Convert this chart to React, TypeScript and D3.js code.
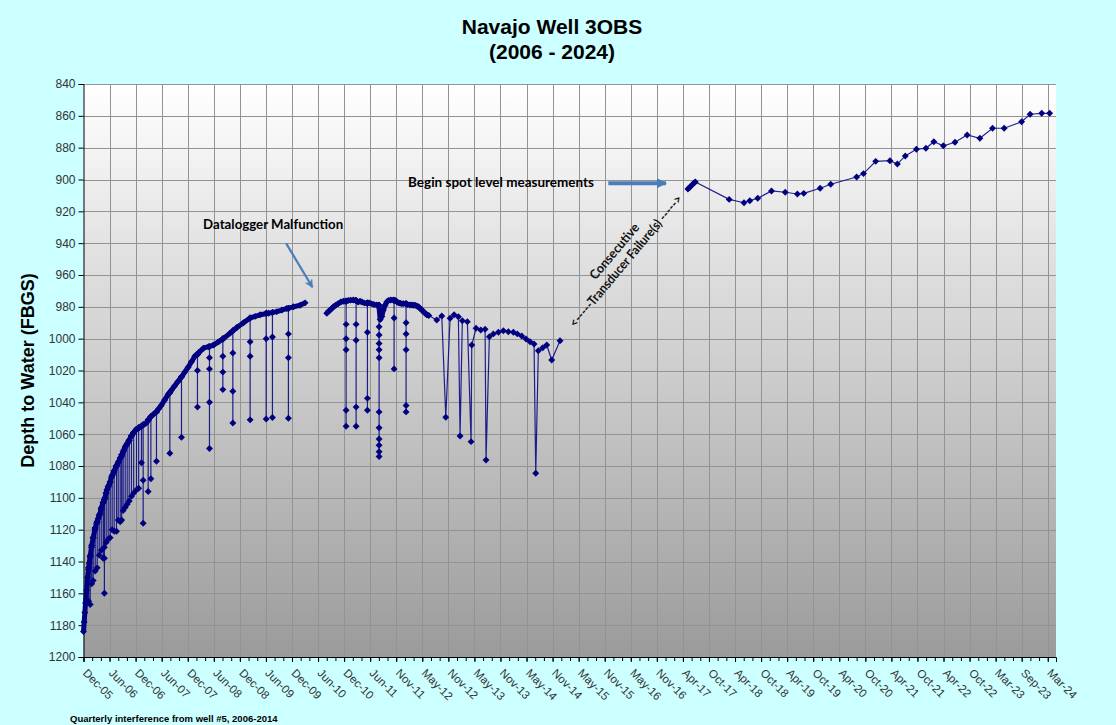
import React, { useEffect, useRef } from "react";
import * as d3 from "d3";

// x-axis category labels (Excel date axis, one label every 180 days)
const tickLabels = [
  "Dec-05", "Jun-06", "Dec-06", "Jun-07", "Dec-07", "Jun-08", "Dec-08", "Jun-09",
  "Dec-09", "Jun-10", "Dec-10", "Jun-11", "Nov-11", "May-12", "Nov-12", "May-13",
  "Nov-13", "May-14", "Nov-14", "May-15", "Nov-15", "May-16", "Nov-16", "Apr-17",
  "Oct-17", "Apr-18", "Oct-18", "Apr-19", "Oct-19", "Apr-20", "Oct-20", "Apr-21",
  "Oct-21", "Apr-22", "Oct-22", "Mar-23", "Sep-23", "Mar-24",
];
const axisStart = 2005.99; // Dec-05 tick, decimal year
const tickStep = 180 / 365.25;
const axisEnd = 2024.38;

const yTicks = [840, 860, 880, 900, 920, 940, 960, 980, 1000, 1020, 1040, 1060, 1080, 1100, 1120, 1140, 1160, 1180, 1200];

// datalogger record 2006-2010: [decimal year, depth to water]
const loggerA: [number, number][] = [
  [2005.99, 1184], [2006.003, 1178], [2006.016, 1172], [2006.028, 1166], [2006.047, 1158],
  [2006.066, 1150], [2006.083, 1145], [2006.098, 1141], [2006.12, 1136], [2006.141, 1131],
  [2006.173, 1125], [2006.206, 1120], [2006.236, 1116], [2006.268, 1113], [2006.3, 1110],
  [2006.33, 1106], [2006.362, 1103], [2006.396, 1100], [2006.432, 1095], [2006.472, 1092],
  [2006.519, 1087], [2006.563, 1084], [2006.608, 1080], [2006.657, 1077], [2006.708, 1074],
  [2006.752, 1070], [2006.797, 1067], [2006.848, 1064], [2006.897, 1061], [2006.941, 1059],
  [2006.986, 1057], [2007.037, 1056], [2007.086, 1055], [2007.132, 1054], [2007.175, 1053],
  [2007.221, 1051], [2007.264, 1049], [2007.313, 1047.5], [2007.364, 1046], [2007.412, 1044],
  [2007.459, 1042], [2007.525, 1038.5], [2007.591, 1035], [2007.648, 1032.5], [2007.705, 1030],
  [2007.773, 1027], [2007.843, 1024], [2007.905, 1021], [2007.969, 1018], [2008.032, 1014.5],
  [2008.096, 1011], [2008.177, 1008.5], [2008.258, 1006], [2008.353, 1005], [2008.447, 1004],
  [2008.542, 1002], [2008.636, 1000], [2008.763, 996.5], [2008.89, 993], [2009.015, 990],
  [2009.141, 987], [2009.236, 986], [2009.33, 985], [2009.487, 984], [2009.646, 983],
  [2009.741, 982], [2009.835, 981], [2009.96, 980], [2010.086, 979], [2010.181, 977.5],
];

// pumping drawdowns 2006-2010: [year, level before, deepest, other readings on the way]
const dropsA: [number, number, number, number[]][] = [
  [2006.088, 1144, 1165, []], [2006.117, 1137, 1167, []], [2006.145, 1130, 1154, []],
  [2006.173, 1125, 1152, []], [2006.211, 1119, 1146, []], [2006.249, 1115, 1144, []],
  [2006.287, 1111, 1136, []], [2006.325, 1107, 1133, []], [2006.362, 1103, 1138, []],
  [2006.385, 1101, 1160, [1131, 1138]], [2006.419, 1097, 1128, []], [2006.457, 1093, 1126, []],
  [2006.494, 1090, 1125, []], [2006.532, 1086, 1120, []], [2006.57, 1083, 1121, []],
  [2006.614, 1080, 1121, []], [2006.646, 1078, 1114, []], [2006.684, 1075, 1115, []],
  [2006.712, 1073, 1114, []], [2006.74, 1071, 1108, []], [2006.778, 1068, 1106, []],
  [2006.816, 1066, 1104, []], [2006.854, 1064, 1102, []], [2006.897, 1061, 1099, []],
  [2006.939, 1059, 1097, []], [2006.992, 1057, 1095, []], [2007.033, 1056, 1094, []],
  [2007.086, 1055, 1078, []], [2007.118, 1054, 1116, [1089]], [2007.213, 1051, 1096, []],
  [2007.264, 1049, 1088, []], [2007.37, 1046, 1077, []], [2007.623, 1034, 1072, []],
  [2007.843, 1024, 1062, []], [2008.145, 1010, 1043, [1020]],
  [2008.372, 1005, 1069, [1012, 1019, 1040]], [2008.625, 1000, 1032, [1011, 1021]],
  [2008.814, 995, 1053, [1009, 1033]], [2009.141, 987, 1051, [1002, 1011]],
  [2009.444, 984, 1050.5, [1000]], [2009.563, 983.5, 1049.5, [999]],
  [2009.865, 981, 1050, [997, 1012]],
];

// datalogger record 2010-2012
const loggerB: [number, number][] = [
  [2010.591, 984], [2010.62, 983], [2010.654, 982], [2010.685, 981], [2010.716, 980],
  [2010.76, 979], [2010.805, 978], [2010.855, 977], [2010.905, 976.5], [2010.95, 976.3],
  [2010.994, 976], [2011.04, 975.8], [2011.094, 975.7], [2011.14, 976], [2011.183, 977],
  [2011.22, 976.5], [2011.258, 977], [2011.3, 977.5], [2011.347, 977.8], [2011.39, 977.5],
  [2011.429, 978], [2011.48, 978.5], [2011.536, 978.8], [2011.575, 979], [2011.6, 988],
  [2011.631, 986], [2011.66, 982], [2011.693, 979], [2011.725, 977], [2011.756, 976],
  [2011.8, 975.7], [2011.85, 975.7], [2011.89, 976], [2011.92, 977], [2011.95, 977.5],
  [2011.977, 977.8], [2012.01, 978], [2012.039, 978], [2012.085, 978], [2012.12, 978.5],
  [2012.166, 978.8], [2012.2, 978.8], [2012.228, 979], [2012.26, 979], [2012.292, 979.5],
  [2012.325, 980], [2012.355, 981], [2012.39, 982], [2012.417, 983], [2012.45, 984],
  [2012.482, 985], [2012.52, 985.5],
];

const dropsB: [number, number, number, number[]][] = [
  [2010.956, 976.5, 1055, [991, 1000, 1007, 1045]],
  [2011.145, 976, 1055, [991, 1001, 1043]],
  [2011.359, 977.5, 1045, [996, 1037.5]],
  [2011.58, 979, 1074, [992.5, 997.7, 1003, 1007, 1012, 1046, 1056, 1063, 1067, 1071]],
  [2011.863, 976, 1019, [987]],
  [2012.09, 978, 1046, [990, 997, 1007, 1042]],
];

// manual readings 2012-2015
const manualB: [number, number][] = [
  [2012.67, 988.3], [2012.765, 985.8], [2012.841, 1049.4], [2012.922, 987.2], [2012.998, 985],
  [2013.079, 986.2], [2013.111, 1061.2], [2013.154, 988.7], [2013.249, 989.3], [2013.319, 1064.7],
  [2013.332, 1004], [2013.413, 993.5], [2013.502, 994.6], [2013.584, 994.1], [2013.602, 1076.2],
  [2013.665, 998.8], [2013.74, 997], [2013.835, 996], [2013.93, 995], [2014.024, 995.6],
  [2014.119, 996], [2014.194, 997], [2014.277, 998.3], [2014.359, 1000.2], [2014.434, 1001.9],
  [2014.51, 1003.4], [2014.542, 1084.6], [2014.591, 1007.6], [2014.674, 1005.7], [2014.75, 1004],
  [2014.844, 1013.4], [2015.001, 1001.3],
];

// spot level measurements 2017-2024
const spotLevels: [number, number][] = [
  [2017.42, 906], [2017.45, 905], [2017.48, 904], [2017.51, 903], [2017.54, 902], [2017.56, 901.5],
  [2018.2, 912.5], [2018.48, 914.6], [2018.59, 913.3], [2018.74, 911.8], [2019.0, 907.2],
  [2019.26, 908], [2019.49, 909.1], [2019.61, 908.7], [2019.92, 905.5], [2020.12, 903],
  [2020.61, 898.4], [2020.74, 896.3], [2020.97, 888.6], [2021.24, 888.2], [2021.38, 890.3],
  [2021.53, 885.2], [2021.74, 881], [2021.92, 880.4], [2022.07, 876.3], [2022.25, 878.8],
  [2022.47, 876.6], [2022.7, 872], [2022.94, 874.1], [2023.18, 867.8], [2023.4, 867.8],
  [2023.73, 863.7], [2023.89, 859], [2024.11, 858.4], [2024.26, 858.4],
];

const W = 1116;
const H = 725;
const NAVY = "#000080";
const ARROW = "#4a7ebb";
const AXIS_FONT = "'Liberation Sans', Arial, sans-serif";
const NOTE_FONT = "Lato, 'Open Sans', sans-serif";

type Pt = { t: number; v: number; k: number };

function withDrawdowns(trend: [number, number][], drops: [number, number, number, number[]][]) {
  const pts: Pt[] = trend.map(([t, v]) => ({ t, v, k: 0 }));
  drops.forEach(([t, top, bottom, extra]) => {
    pts.push({ t, v: top, k: 1 });
    extra.forEach((v, j) => pts.push({ t, v, k: 2 + j }));
    pts.push({ t, v: bottom, k: 50 });
    pts.push({ t, v: top, k: 51 });
  });
  return pts.sort((a, b) => a.t - b.t || a.k - b.k);
}

export default function App() {
  const svgRef = useRef<SVGSVGElement>(null);

  useEffect(() => {
    const svg = d3.select(svgRef.current);
    svg.selectAll("*").remove();

    const left = 83.5, right = 1056, top = 84, bottom = 657;

    const x = d3.scaleLinear().domain([axisStart, axisEnd]).range([left, right]);
    const y = d3.scaleLinear().domain([840, 1200]).range([top, bottom]);

    // background
    svg.append("rect").attr("width", W).attr("height", H).attr("fill", "#ccffff");

    const defs = svg.append("defs");
    const grad = defs.append("linearGradient")
      .attr("id", "plotBg").attr("x1", 0).attr("y1", 0).attr("x2", 0).attr("y2", 1);
    grad.append("stop").attr("offset", "0%").attr("stop-color", "#ffffff");
    grad.append("stop").attr("offset", "100%").attr("stop-color", "#9b9b9b");

    defs.append("marker")
      .attr("id", "thinHead").attr("viewBox", "0 0 10 10").attr("refX", 9).attr("refY", 5)
      .attr("markerWidth", 4).attr("markerHeight", 4).attr("orient", "auto")
      .append("path").attr("d", "M0,0 L10,5 L0,10 L3,5 Z").attr("fill", ARROW);
    defs.append("marker")
      .attr("id", "thickHead").attr("viewBox", "0 0 10 10").attr("refX", 9).attr("refY", 5)
      .attr("markerWidth", 2.6).attr("markerHeight", 2.6).attr("orient", "auto")
      .append("path").attr("d", "M0,0 L10,5 L0,10 Z").attr("fill", ARROW);

    svg.append("rect")
      .attr("x", left).attr("y", top)
      .attr("width", right - left).attr("height", bottom - top)
      .attr("fill", "url(#plotBg)");

    const majorYears = tickLabels.map((_, i) => axisStart + i * tickStep);
    const minorYears = d3.range(0, (tickLabels.length - 1) * 3 + 1).map(i => axisStart + (i * tickStep) / 3);

    // grid
    const grid = svg.append("g").attr("stroke", "#939393").attr("stroke-width", 1);
    grid.selectAll(".hg").data(yTicks).enter().append("line")
      .attr("x1", left).attr("x2", right)
      .attr("y1", d => Math.round(y(d)) + 0.5).attr("y2", d => Math.round(y(d)) + 0.5);
    grid.selectAll(".vg").data(majorYears.slice(1)).enter().append("line")
      .attr("y1", top).attr("y2", bottom)
      .attr("x1", d => Math.round(x(d)) + 0.5).attr("x2", d => Math.round(x(d)) + 0.5);

    // axes
    const yAxis = svg.append("g")
      .attr("transform", `translate(${left},0)`)
      .call(d3.axisLeft(y).tickValues(yTicks).tickSize(5).tickPadding(3).tickFormat(d3.format("d")));
    yAxis.select(".domain").attr("stroke", "#000");
    yAxis.selectAll(".tick line").attr("stroke", "#000");
    yAxis.selectAll("text")
      .style("font-family", AXIS_FONT).style("font-size", "12px").attr("fill", "#333");

    const xMinor = svg.append("g")
      .attr("transform", `translate(0,${bottom})`)
      .call(d3.axisBottom(x).tickValues(minorYears).tickSize(4).tickFormat(() => ""));
    xMinor.select(".domain").remove();
    xMinor.selectAll(".tick line").attr("stroke", "#000");

    const xAxis = svg.append("g")
      .attr("transform", `translate(0,${bottom})`)
      .call(d3.axisBottom(x).tickValues(majorYears).tickSize(5)
        .tickFormat((_, i) => tickLabels[i]));
    xAxis.select(".domain").attr("stroke", "#000");
    xAxis.selectAll(".tick line").attr("stroke", "#000");
    xAxis.selectAll("text")
      .attr("x", 0).attr("y", 0).attr("dy", "0.35em")
      .attr("transform", "translate(1,14) rotate(45)")
      .style("text-anchor", "start")
      .style("font-family", AXIS_FONT).style("font-size", "11.5px").attr("fill", "#333");

    // series
    const segA = withDrawdowns(loggerA, dropsA);
    const segB = withDrawdowns(loggerB, dropsB).concat(manualB.map(([t, v]) => ({ t, v, k: 0 })));
    const segC: Pt[] = spotLevels.map(([t, v]) => ({ t, v, k: 0 }));

    const band = d3.line<[number, number]>().x(d => x(d[0])).y(d => y(d[1]));
    const line = d3.line<Pt>().x(d => x(d.t)).y(d => y(d.v));

    const plot = svg.append("g");
    [loggerA, loggerB].forEach(seg => {
      plot.append("path").attr("d", band(seg)).attr("fill", "none")
        .attr("stroke", NAVY).attr("stroke-width", 5).attr("stroke-linejoin", "round");
    });
    [segA, segB, segC].forEach(seg => {
      plot.append("path").attr("d", line(seg)).attr("fill", "none")
        .attr("stroke", NAVY).attr("stroke-width", 1.2).attr("stroke-opacity", 0.85);
    });

    const diamond = d3.symbol().type(d3.symbolSquare).size(24);
    plot.selectAll(".mk").data(segA.concat(segB, segC)).enter().append("path")
      .attr("d", diamond()!)
      .attr("transform", d => `translate(${x(d.t)},${y(d.v)}) rotate(45)`)
      .attr("fill", NAVY);

    // titles
    const title = svg.append("text")
      .attr("x", 552).attr("text-anchor", "middle")
      .style("font-family", AXIS_FONT).style("font-weight", "bold").style("font-size", "21px");
    title.append("tspan").attr("x", 552).attr("y", 34).text("Navajo Well 3OBS");
    title.append("tspan").attr("x", 552).attr("y", 59).text("(2006 - 2024)");

    svg.append("text")
      .attr("transform", `translate(34,${(top + bottom) / 2}) rotate(-90)`)
      .attr("text-anchor", "middle")
      .style("font-family", AXIS_FONT).style("font-weight", "bold").style("font-size", "18px")
      .text("Depth to Water (FBGS)");

    svg.append("text")
      .attr("x", 70).attr("y", 722)
      .style("font-family", AXIS_FONT).style("font-weight", "bold").style("font-size", "9.5px")
      .text("Quarterly interference from well #5, 2006-2014");

    // annotations
    svg.append("text")
      .attr("x", x(2009.576)).attr("y", y(928.1)).attr("dy", "0.35em")
      .attr("text-anchor", "middle")
      .attr("textLength", 140).attr("lengthAdjust", "spacingAndGlyphs")
      .style("font-family", NOTE_FONT).style("font-weight", "bold").style("font-size", "13px")
      .text("Datalogger Malfunction");
    svg.append("line")
      .attr("x1", x(2009.822)).attr("y1", y(940.1))
      .attr("x2", x(2010.319)).attr("y2", y(967.7))
      .attr("stroke", ARROW).attr("stroke-width", 2.2)
      .attr("marker-end", "url(#thinHead)");

    svg.append("text")
      .attr("x", x(2013.886)).attr("y", y(901.6)).attr("dy", "0.35em")
      .attr("text-anchor", "middle")
      .attr("textLength", 186).attr("lengthAdjust", "spacingAndGlyphs")
      .style("font-family", NOTE_FONT).style("font-weight", "bold").style("font-size", "13px")
      .text("Begin spot level measurements");
    svg.append("line")
      .attr("x1", x(2015.914)).attr("y1", y(902.4))
      .attr("x2", x(2017.005)).attr("y2", y(902.4))
      .attr("stroke", ARROW).attr("stroke-width", 4)
      .attr("marker-end", "url(#thickHead)");

    const failure = svg.append("g")
      .attr("transform", `translate(${x(2016.136)},${y(948.1)}) rotate(-50)`)
      .style("font-family", NOTE_FONT).style("font-size", "13px").style("font-weight", "bold")
      .attr("fill", "#111");
    failure.append("text")
      .attr("y", -7.5).attr("dy", "0.35em").attr("text-anchor", "middle")
      .attr("textLength", 69).attr("lengthAdjust", "spacingAndGlyphs")
      .text("Consecutive");
    failure.append("text")
      .attr("y", 7.5).attr("dy", "0.35em").attr("text-anchor", "middle")
      .attr("textLength", 168).attr("lengthAdjust", "spacingAndGlyphs")
      .text("<-----Transducer Failure(s) ----->");
  }, []);

  return (
    <svg
      ref={svgRef}
      width={W}
      height={H}
      style={{ position: "absolute", left: 0, top: 0, display: "block" }}
    />
  );
}
